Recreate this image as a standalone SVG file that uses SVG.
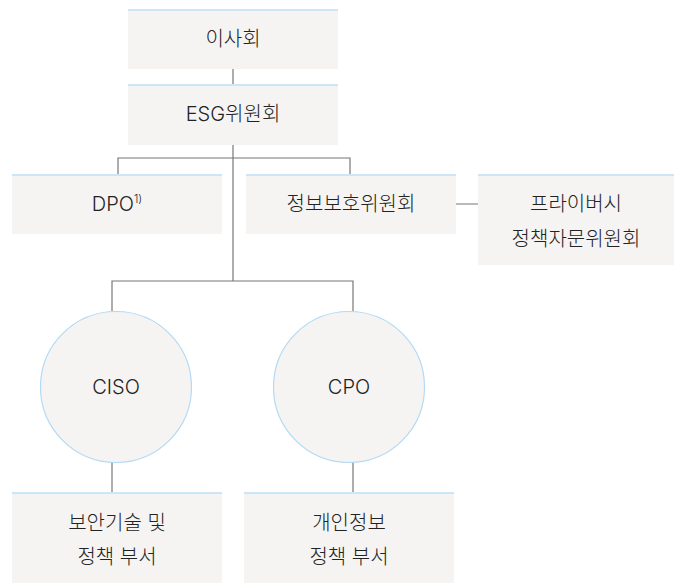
<svg xmlns="http://www.w3.org/2000/svg" width="674" height="583" viewBox="0 0 674 583">
<style>
.box{fill:#f5f4f2}
.top{stroke:#cde6f7;stroke-width:2}
.circ{fill:#f5f4f2;stroke:#b3daf5;stroke-width:1.2}
.ln{stroke:#777;stroke-width:1.2;fill:none}
text{font-family:"Inter","Noto Sans CJK KR","Noto Sans",sans-serif;font-size:20px;font-weight:300;fill:#222;text-anchor:middle}
</style>
<rect width="674" height="583" fill="#fff"/>
<g id="connectors">
<path class="ln" d="M233 69V84M233 145V281M118 174V158H350V174M112 311V281H353V311M456 204H478M112 462V492M353 462V492"/>
</g>
<g id="n-board"><rect class="box" x="128" y="9" width="210" height="60"/><line class="top" x1="128" y1="10" x2="338" y2="10"/><text x="233" y="46">이사회</text></g>
<g id="n-esg"><rect class="box" x="128" y="84" width="210" height="61"/><line class="top" x1="128" y1="85" x2="338" y2="85"/><text x="233" y="121">ESG위원회</text></g>
<g id="n-dpo"><rect class="box" x="12" y="174" width="210" height="60"/><line class="top" x1="12" y1="175" x2="222" y2="175"/><text x="117" y="211">DPO<tspan font-size="11" dy="-8">1)</tspan></text></g>
<g id="n-isc"><rect class="box" x="246" y="174" width="210" height="60"/><line class="top" x1="246" y1="175" x2="456" y2="175"/><text x="351" y="211">정보보호위원회</text></g>
<g id="n-privacy"><rect class="box" x="478" y="174" width="196" height="91"/><line class="top" x1="478" y1="175" x2="674" y2="175"/><text x="576" y="211">프라이버시</text><text x="576" y="246">정책자문위원회</text></g>
<g id="n-ciso"><circle class="circ" cx="116" cy="387" r="75.5"/><text x="116" y="394">CISO</text></g>
<g id="n-cpo"><circle class="circ" cx="349" cy="387" r="75.5"/><text x="349" y="394">CPO</text></g>
<g id="n-sec"><rect class="box" x="12" y="492" width="210" height="91"/><line class="top" x1="12" y1="493" x2="222" y2="493"/><text x="117" y="530">보안기술 및</text><text x="117" y="564">정책 부서</text></g>
<g id="n-priv"><rect class="box" x="244" y="492" width="210" height="91"/><line class="top" x1="244" y1="493" x2="454" y2="493"/><text x="349" y="530">개인정보</text><text x="349" y="564">정책 부서</text></g>
</svg>
